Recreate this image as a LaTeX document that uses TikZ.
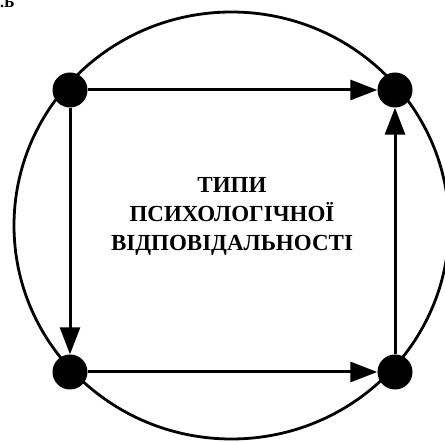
\documentclass[tikz,border=0pt]{standalone}
\usepackage{fontspec}
\setmainfont{Liberation Serif}
\usetikzlibrary{arrows.meta}
\tikzset{
  dotnode/.style={circle, fill=black, inner sep=0pt, minimum size=35pt},
  flow/.style={line width=3pt, -{Triangle[length=27pt, width=20pt]}},
  ring/.style={line width=2.8pt},
  title/.style={align=center, font=\bfseries\fontsize{23}{29}\selectfont}
}
\begin{document}
\begin{tikzpicture}[x=1pt, y=-1pt]
\useasboundingbox (0,0) rectangle (445,443);
\draw[ring] (231.5,225.5) ellipse [x radius=217.5, y radius=213.5];
\node[dotnode] (tl) at (70,90) {};
\node[dotnode] (tr) at (395,90) {};
\node[dotnode] (bl) at (70,372) {};
\node[dotnode] (br) at (395,372) {};
\draw[flow] (tl) -- (tr);
\draw[flow] (tl) -- (bl);
\draw[flow] (bl) -- (br);
\draw[flow] (br) -- (tr);
\node[title] (t) at (232,216) {ТИПИ\\ПСИХОЛОГІЧНОЇ\\ВІДПОВІДАЛЬНОСТІ};
\node[anchor=base west, inner sep=0pt, font=\bfseries\fontsize{16}{18}\selectfont] (lbl) at (0,8) {.Б};
\end{tikzpicture}
\end{document}
